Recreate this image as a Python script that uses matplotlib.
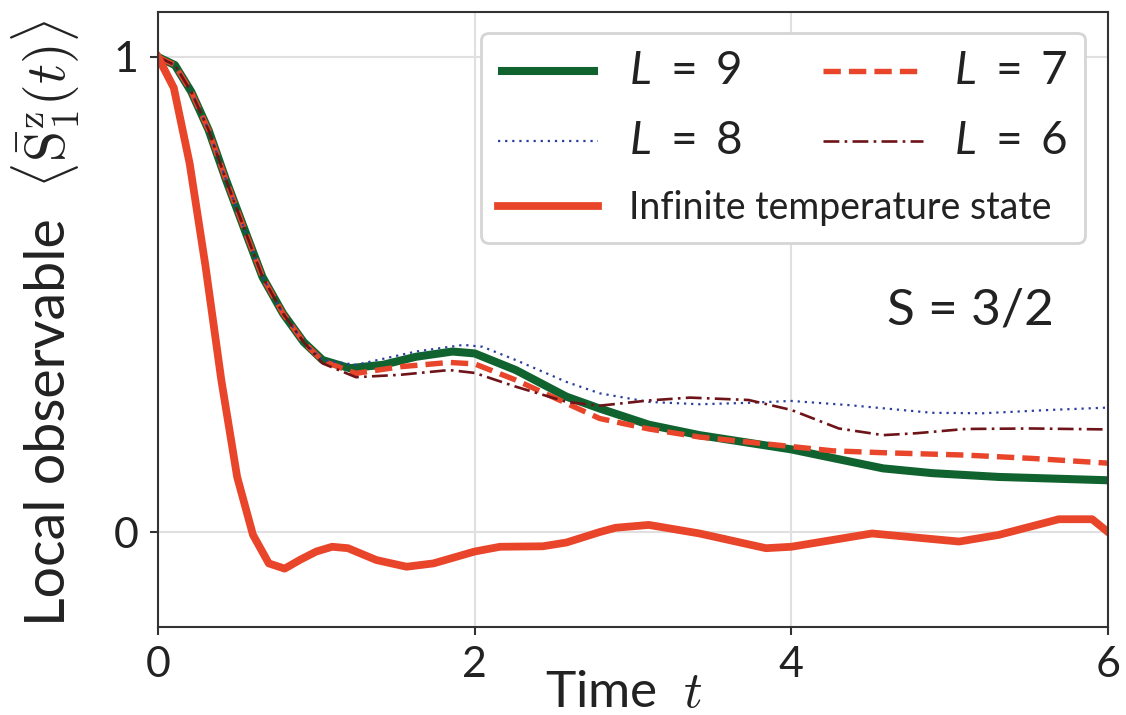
import numpy as np
import matplotlib
matplotlib.use('Agg')
import matplotlib.pyplot as plt

plt.rcParams['font.family'] = ['Lato', 'DejaVu Sans']
plt.rcParams['mathtext.fontset'] = 'custom'
plt.rcParams['mathtext.rm'] = 'Lato'
plt.rcParams['mathtext.it'] = 'Lato:italic'
plt.rcParams['mathtext.bf'] = 'Lato:bold'

# early decay shared by all system sizes
t_early = [0, 0.107, 0.21, 0.32, 0.43, 0.54, 0.66, 0.79, 0.92, 1.04]
v_early = [1.0, 0.983, 0.927, 0.846, 0.741, 0.643, 0.537, 0.46, 0.40, 0.362]

t_L9 = t_early + [1.21, 1.42, 1.63, 1.86, 2.0, 2.26, 2.58, 2.79, 3.10, 3.42, 4.0, 4.26, 4.58, 4.89, 5.31, 6.0]
v_L9 = v_early + [0.345, 0.352, 0.369, 0.380, 0.376, 0.341, 0.285, 0.26, 0.226, 0.204, 0.174, 0.156, 0.134, 0.124, 0.116, 0.109]

t_L7 = t_early + [1.25, 1.53, 1.84, 2.0, 2.26, 2.58, 2.79, 3.10, 3.42, 4.0, 4.26, 4.58, 5.10, 5.52, 6.0]
v_L7 = v_early[:-1] + [0.360, 0.334, 0.348, 0.357, 0.354, 0.32, 0.271, 0.239, 0.217, 0.20, 0.18, 0.171, 0.167, 0.162, 0.155, 0.145]

t_L8 = t_early + [1.25, 1.63, 1.93, 2.05, 2.26, 2.58, 2.79, 3.10, 3.42, 3.73, 4.0, 4.37, 4.89, 5.21, 5.63, 6.0]
v_L8 = v_early + [0.352, 0.38, 0.394, 0.39, 0.362, 0.316, 0.292, 0.274, 0.269, 0.272, 0.276, 0.267, 0.251, 0.25, 0.257, 0.262]

t_L6 = t_early + [1.25, 1.53, 1.84, 2.0, 2.26, 2.58, 2.79, 3.10, 3.36, 3.73, 4.0, 4.30, 4.58, 4.79, 5.10, 5.52, 6.0]
v_L6 = v_early[:-1] + [0.355, 0.326, 0.331, 0.341, 0.335, 0.306, 0.274, 0.266, 0.277, 0.283, 0.278, 0.257, 0.218, 0.204, 0.208, 0.217, 0.218, 0.216]

t_inf = [0, 0.1, 0.2, 0.3, 0.4, 0.5, 0.6, 0.7, 0.8, 0.9, 1.0, 1.1, 1.2, 1.38, 1.57, 1.74, 2.0, 2.16,
         2.43, 2.58, 2.79, 2.89, 3.1, 3.42, 3.84, 4.0, 4.51, 5.06, 5.31, 5.69, 5.9, 6.0]
v_inf = [1.0, 0.935, 0.776, 0.56, 0.32, 0.116, -0.006, -0.066, -0.077, -0.058, -0.041, -0.031, -0.034,
         -0.059, -0.073, -0.066, -0.041, -0.031, -0.030, -0.022, 0.0, 0.009, 0.015, -0.003, -0.034,
         -0.031, -0.003, -0.020, -0.006, 0.027, 0.027, 0.0]

c_green = '#10632F'
c_red = '#E8452A'
c_blue = '#2B3F9E'
c_dark = '#6E1418'
c_text = '#222222'

fig = plt.figure(figsize=(11.26, 7.15), dpi=100)
ax = fig.add_axes([0.1403, 0.123, 0.8437, 0.8602])

l9, = ax.plot(t_L9, v_L9, color=c_green, lw=5.8, solid_capstyle='butt')
l7, = ax.plot(t_L7, v_L7, color=c_red, lw=3.9, ls=(0, (3.2, 1.5)))
l8, = ax.plot(t_L8, v_L8, color=c_blue, lw=1.6, ls=(0, (1, 2.2)))
l6, = ax.plot(t_L6, v_L6, color=c_dark, lw=1.9, ls=(0, (6, 2, 1, 2)))
linf, = ax.plot(t_inf, v_inf, color=c_red, lw=5.6)

ax.set_xlim(0, 6)
ax.set_ylim(-0.2, 1.0947)
ax.set_xticks([0, 2, 4, 6])
ax.set_yticks([0, 1])
ax.grid(True, color='#e0e0e0', lw=1.5)
ax.set_axisbelow(True)
for s in ax.spines.values():
    s.set_color('#333333')
    s.set_linewidth(1.5)
ax.tick_params(labelsize=31, length=6, width=1.5, color='#333333', labelcolor=c_text, pad=8)

ax.set_xlabel(r'Time  $t$', fontsize=37, color=c_text, math_fontfamily='cm')
ax.xaxis.set_label_coords(0.49, -0.07)

# y label: plain words and the expectation value drawn as two pieces
fig.text(65 / 1126, 1 - 422 / 715, 'Local observable', fontsize=40, color=c_text,
         rotation=90, rotation_mode='anchor', ha='center', va='baseline')
fig.text(66 / 1126, 1 - 104 / 715, r'$\langle \bar{\mathrm{S}}^{\mathrm{z}}_{1}(t) \rangle$',
         fontsize=40, color=c_text, math_fontfamily='cm',
         rotation=90, rotation_mode='anchor', ha='center', va='baseline')

ax.text(5.13, 0.467, 'S = 3/2', fontsize=37, color=c_text, ha='center', va='center')

labels = [r'$L\ =\ 9$', r'$L\ =\ 8$', 'Infinite temperature state', r'$L\ =\ 7$', r'$L\ =\ 6$']
leg = ax.legend([l9, l8, linf, l7, l6], labels,
                ncol=2, loc='upper right', bbox_to_anchor=(0.9758, 0.9659), borderaxespad=0,
                fontsize=27, handlelength=2.67, handletextpad=0.83, columnspacing=-6.1,
                labelspacing=0.75, borderpad=0.45, fancybox=True, framealpha=1)
leg.get_frame().set_edgecolor('#d5d5d5')
leg.get_frame().set_linewidth(2)
for i in [0, 1, 3, 4]:
    leg.get_texts()[i].set_fontsize(33)
for tx in leg.get_texts():
    tx.set_color(c_text)

fig.savefig('out.png', dpi=100)
